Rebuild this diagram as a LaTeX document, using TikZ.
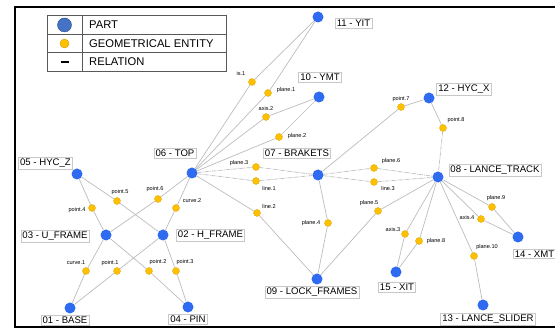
\documentclass[tikz,border=0pt]{standalone}
\usepackage{fontspec}
\setmainfont{Liberation Sans}
\definecolor{partblue}{HTML}{2F6BF0}
\definecolor{geoyel}{HTML}{FFC000}
\definecolor{edgegray}{HTML}{BDBDBD}
\definecolor{boxgray}{HTML}{C8C8C8}
\definecolor{legblue}{HTML}{4472C4}
\tikzset{
  part/.style={circle,fill=partblue,inner sep=0pt,minimum size=11pt},
  geo/.style={circle,fill=geoyel,draw=geoyel!85!black,line width=0.3pt,inner sep=0pt,minimum size=7pt},
  plbl/.style={draw=boxgray,fill=white,line width=0.6pt,inner sep=1.6pt,font=\fontsize{9.6}{10}\selectfont},
  sm/.style={inner sep=0pt,font=\fontsize{5.6}{6}\selectfont},
  rel/.style={draw=edgegray,line width=0.7pt},
  drel/.style={draw=edgegray,line width=0.7pt,dash pattern=on 4pt off 1pt on 1pt off 1pt},
  legline/.style={draw=black!65,line width=0.8pt},
  legtxt/.style={anchor=west,inner sep=0pt,font=\fontsize{11.2}{12}\selectfont}
}
\begin{document}
\begin{tikzpicture}[x=1pt,y=-1pt]
\useasboundingbox (0,0) rectangle (555,331);
\fill[white] (0,0) rectangle (555,331);
% frame
\draw[black,line width=2.2pt] (562,7) -- (15,7) -- (15,327) -- (562,327);
% legend
\draw[legline] (47,15) rectangle (226,71);
\draw[legline] (47,34) -- (226,34);
\draw[legline] (47,52) -- (226,52);
\draw[legline] (82,15) -- (82,71);
\node[circle,fill=legblue,draw=legblue!70!black,line width=0.4pt,minimum size=14pt,inner sep=0pt] (lgp) at (64.5,25) {};
\node[circle,fill=geoyel,draw=geoyel!80!black,line width=0.4pt,minimum size=9pt,inner sep=0pt] (lgg) at (64.5,43.5) {};
\coordinate (lr1) at (60.5,62);
\coordinate (lr2) at (68.5,62);
\draw[black,line width=1.2pt] (lr1) -- (lr2);
\node[legtxt] (lt1) at (89,25) {PART};
\node[legtxt] (lt2) at (89,43.5) {GEOMETRICAL ENTITY};
\node[legtxt] (lt3) at (89,62) {RELATION};

% parts
\node[part] (p01) at (70,308) {};
\node[part] (p02) at (163,235) {};
\node[part] (p03) at (106,235) {};
\node[part] (p04) at (188,307) {};
\node[part] (p05) at (77,174) {};
\node[part] (p06) at (192,173) {};
\node[part] (p07) at (318,175) {};
\node[part] (p08) at (438,177) {};
\node[part] (p09) at (317,279) {};
\node[part] (p10) at (319,97) {};
\node[part] (p11) at (318,17) {};
\node[part] (p12) at (429,98) {};
\node[part] (p13) at (483,305) {};
\node[part] (p14) at (518,237) {};
\node[part] (p15) at (396,272) {};

% part labels
\node[plbl] (l01) at (65,320) {01 - BASE};
\node[plbl] (l02) at (210.5,235) {02 - H\_FRAME};
\node[plbl] (l03) at (55,236) {03 - U\_FRAME};
\node[plbl] (l04) at (188,319) {04 - PIN};
\node[plbl] (l05) at (45.5,163) {05 - HYC\_Z};
\node[plbl] (l06) at (175,153) {06 - TOP};
\node[plbl] (l07) at (297,153) {07 - BRAKETS};
\node[plbl] (l08) at (495,170) {08 - LANCE\_TRACK};
\node[plbl] (l09) at (312,292) {09 - LOCK\_FRAMES};
\node[plbl] (l10) at (320,77) {10 - YMT};
\node[plbl] (l11) at (353.5,23) {11 - YIT};
\node[plbl] (l12) at (464,89) {12 - HYC\_X};
\node[plbl] (l13) at (488,319) {13 - LANCE\_SLIDER};
\node[plbl,inner sep=1.2pt] (l14) at (534.5,254) {14 - XMT};
\node[plbl] (l15) at (397,287) {15 - XIT};

% geometrical entities
\node[geo] (curve1) at (86,271) {};
\node[geo] (point1) at (117,271) {};
\node[geo] (point2) at (149,271) {};
\node[geo] (point3) at (176,271) {};
\node[geo] (point4) at (92,208) {};
\node[geo] (point5) at (117,201) {};
\node[geo] (point6) at (158,199) {};
\node[geo] (curve2) at (176,208) {};
\node[geo] (plane3) at (256,167) {};
\node[geo] (line1) at (256,181) {};
\node[geo] (line2) at (257,213) {};
\node[geo] (is1) at (252,82) {};
\node[geo] (plane1) at (268,93) {};
\node[geo] (axis2) at (266,117) {};
\node[geo] (plane2) at (279,137) {};
\node[geo] (plane6) at (374,168) {};
\node[geo] (line3) at (374,182) {};
\node[geo] (point7) at (401,107) {};
\node[geo] (point8) at (443,128) {};
\node[geo] (plane5) at (378,211) {};
\node[geo] (plane4) at (328,223) {};
\node[geo] (axis3) at (405,234) {};
\node[geo] (plane8) at (419,241) {};
\node[geo] (axis4) at (481,219) {};
\node[geo] (plane9) at (492,207) {};
\node[geo] (plane10) at (474,256) {};

% small labels
\node[sm] (tcurve1) at (76,263) {curve.1};
\node[sm] (tpoint1) at (110,263) {point.1};
\node[sm] (tpoint2) at (158,262) {point.2};
\node[sm] (tpoint3) at (185,262) {point.3};
\node[sm] (tpoint4) at (77,210) {point.4};
\node[sm] (tpoint5) at (120,192) {point.5};
\node[sm] (tpoint6) at (155,189) {point.6};
\node[sm] (tcurve2) at (192,201) {curve.2};
\node[sm] (tplane3) at (239,163) {plane.3};
\node[sm] (tline1) at (269,189) {line.1};
\node[sm] (tline2) at (269,207) {line.2};
\node[sm] (tis1) at (241,74) {is.1};
\node[sm] (tplane1) at (286,90) {plane.1};
\node[sm] (taxis2) at (266,109) {axis.2};
\node[sm] (tplane2) at (297,136) {plane.2};
\node[sm] (tplane6) at (391,161) {plane.6};
\node[sm] (tline3) at (388,189) {line.3};
\node[sm] (tpoint7) at (401,99) {point.7};
\node[sm] (tpoint8) at (456,120) {point.8};
\node[sm] (tplane5) at (369,203) {plane.5};
\node[sm] (tplane4) at (311,223) {plane.4};
\node[sm] (taxis3) at (393,229) {axis.3};
\node[sm] (tplane8) at (436,241) {plane.8};
\node[sm] (taxis4) at (467,218) {axis.4};
\node[sm] (tplane9) at (496,198) {plane.9};
\node[sm] (tplane10) at (487,247) {plane.10};

% relations
\draw[rel] (p05) -- (point4) -- (p03);
\draw[rel] (p03) -- (curve1) -- (p01);
\draw[rel] (p05) -- (point5) -- (p02);
\draw[rel] (p06) -- (point6) -- (p03);
\draw[rel] (p06) -- (curve2) -- (p02);
\draw[rel] (p02) -- (point1) -- (p01);
\draw[rel] (p03) -- (point2) -- (p04);
\draw[rel] (p02) -- (point3) -- (p04);
\draw[rel] (p06) -- (is1) -- (p11);
\draw[rel] (p06) -- (plane1) -- (p11);
\draw[rel] (p06) -- (axis2) -- (p10);
\draw[rel] (p06) -- (plane2) -- (p10);
\draw[drel] (p06) -- (plane3) -- (p07);
\draw[drel] (p06) -- (line1) -- (p07);
\draw[rel] (p06) -- (line2) -- (p09);
\draw[rel] (p07) -- (plane4) -- (p09);
\draw[drel] (p07) -- (plane6) -- (p08);
\draw[drel] (p07) -- (line3) -- (p08);
\draw[rel] (p07) -- (point7) -- (p12);
\draw[rel] (p12) -- (point8);
\draw[drel] (point8) -- (p08);
\draw[rel] (p08) -- (plane5) -- (p09);
\draw[rel] (p08) -- (axis3) -- (p15);
\draw[rel] (p08) -- (plane8) -- (p15);
\draw[rel] (p08) -- (plane10) -- (p13);
\draw[rel] (p08) -- (axis4) -- (p14);
\draw[rel] (p08) -- (plane9) -- (p14);
\end{tikzpicture}
\end{document}
